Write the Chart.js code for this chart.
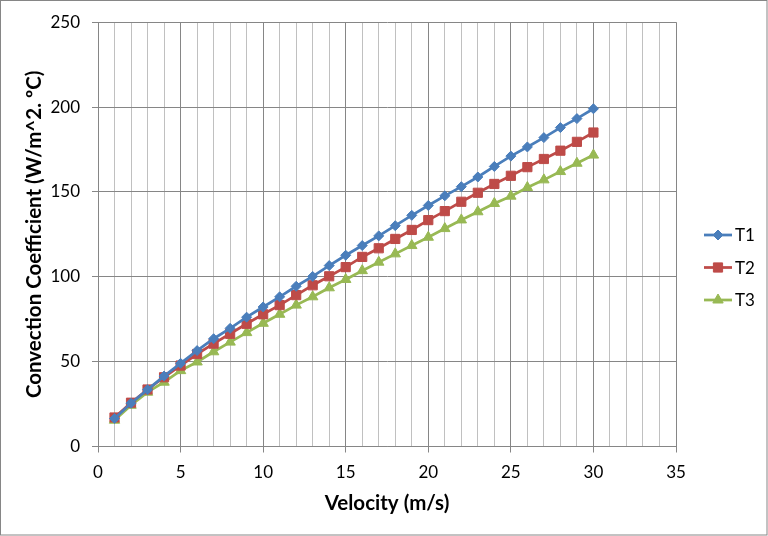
<!DOCTYPE html>
<html>
<head>
<meta charset="utf-8">
<script src="https://cdn.jsdelivr.net/npm/chart.js@4.4.1/dist/chart.umd.min.js"></script>
<style>
html,body{margin:0;padding:0;background:#fff;}
#wrap{width:768px;height:536px;position:relative;}
</style>
</head>
<body>
<div id="wrap"><canvas id="c" width="768" height="536"></canvas></div>
<script>
const velocity = [1,2,3,4,5,6,7,8,9,10,11,12,13,14,15,16,17,18,19,20,21,22,23,24,25,26,27,28,29,30];
const t1 = [16.5,25.5,33.5,41.5,49,56.5,63.5,69.6,76.2,82.2,88.2,94.4,100.2,106.6,112.7,118.4,124.1,130.1,136.2,142,147.7,153.1,158.8,165,171.1,176.5,182,187.9,193.2,199];
const t2 = [17.1,25.8,33.6,40.8,47.7,54.5,60.6,66.4,72.3,77.9,83.3,89.2,95,100.3,105.7,111.7,116.8,122.3,127.6,133.4,138.7,144.2,149.5,154.7,159.5,164.6,169.4,174.3,179.5,185];
const t3 = [15.5,24.3,32,37.9,44.7,49.8,55.8,61.5,67.1,72.6,77.9,83.3,88.2,93.5,98.4,103.6,108.6,113.5,118.4,123.3,128.4,133.5,138.3,143.2,147.5,152.6,157.1,162,166.9,171.7];
const seriesNames = ['T1','T2','T3'];
const xTitle = 'Velocity (m/s)';
const yTitle = 'Convection Coefficient (W/m^2. ºC)';

const colors = ['#4A7EBB','#BE4B48','#98B954'];
const styles = ['rectRot','rect','triangle'];
const radii = [5,6.5,6];

function pts(arr){ return velocity.map((v,i)=>({x:v,y:arr[i]})); }
const datasets = [t1,t2,t3].map((arr,i)=>({
  label: seriesNames[i],
  data: pts(arr),
  borderColor: colors[i],
  backgroundColor: colors[i],
  borderWidth: 2.75,
  pointStyle: styles[i],
  pointRadius: radii[i],
  pointBorderWidth: 1,
  pointBackgroundColor: colors[i],
  pointBorderColor: colors[i],
  tension: 0,
  fill: false
}));

const bgPlugin = {
  id:'bg',
  beforeDraw(chart){
    const ctx = chart.ctx;
    ctx.save();
    ctx.fillStyle='#fff';
    ctx.fillRect(0,0,chart.width,chart.height);
    ctx.strokeStyle='#868686';
    ctx.lineWidth=1;
    ctx.strokeRect(0.5,0.5,chart.width-1.5,chart.height-1.5);
    ctx.restore();
  }
};

const legendPlugin = {
  id:'customLegend',
  afterDraw(chart){
    const ctx = chart.ctx;
    const x0 = 704, x1 = 732, ys = [235,267.5,300];
    ctx.save();
    chart.data.datasets.forEach((ds,i)=>{
      const y = ys[i];
      ctx.strokeStyle = ds.borderColor;
      ctx.lineWidth = ds.borderWidth;
      ctx.beginPath(); ctx.moveTo(x0,y); ctx.lineTo(x1,y); ctx.stroke();
      ctx.fillStyle = ds.pointBackgroundColor;
      ctx.strokeStyle = ds.pointBorderColor;
      ctx.lineWidth = 1;
      Chart.helpers.drawPoint(ctx,{pointStyle:ds.pointStyle,radius:ds.pointRadius,rotation:0,borderWidth:1},(x0+x1)/2,y);
      ctx.fillStyle='#000';
      ctx.font='17px Lato';
      ctx.textBaseline='middle';
      ctx.textAlign='left';
      ctx.fillText(ds.label, x1+3, y+1);
    });
    ctx.restore();
  }
};

new Chart(document.getElementById('c'),{
  type:'line',
  data:{datasets},
  plugins:[bgPlugin,legendPlugin],
  options:{
    responsive:false,
    animation:false,
    devicePixelRatio:1,
    layout:{padding:{left:0,right:92,top:19,bottom:0}},
    plugins:{legend:{display:false},tooltip:{enabled:false}},
    scales:{
      x:{
        type:'linear',
        min:0,max:35,
        afterFit(s){ s.height = 89.5; },
        ticks:{
          stepSize:1, autoSkip:false, maxRotation:0, padding:10,
          color:'#000', font:{family:'Lato',size:17},
          callback:(v)=> (v%5===0 ? String(v) : '')
        },
        grid:{
          color:(c)=> (c.tick && c.tick.value%5===0 ? '#868686' : '#C0C0C0'),
          tickColor:(c)=> (c.tick && c.tick.value%5===0 ? '#868686' : 'rgba(0,0,0,0)'),
          tickLength:6,
          lineWidth:1
        },
        border:{color:'#868686',width:1},
        title:{display:true,text:xTitle,color:'#000',font:{family:'Lato',size:20.5,weight:'bold'},padding:{top:0,bottom:20.7}}
      },
      y:{
        min:0,max:250,
        afterFit(s){ s.width = 98; },
        ticks:{stepSize:50,padding:12,color:'#000',font:{family:'Lato',size:17}},
        grid:{color:'#868686',tickColor:'#868686',tickLength:6,lineWidth:1},
        border:{color:'#868686',width:1},
        title:{display:true,text:yTitle,color:'#000',font:{family:'Lato',size:20.5,weight:'bold'},padding:{top:21.7,bottom:0}}
      }
    }
  }
});
</script>
</body>
</html>
